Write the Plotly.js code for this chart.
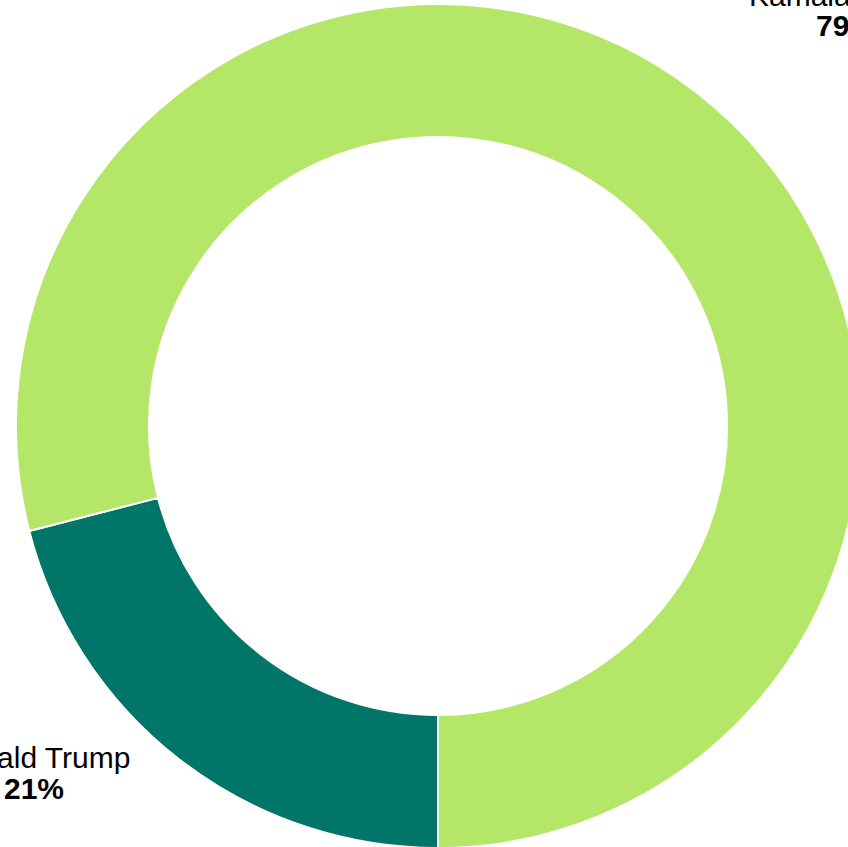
<!DOCTYPE html>
<html>
<head>
<meta charset="utf-8">
<script src="https://cdn.plot.ly/plotly-3.0.1.min.js"></script>
<style>
html,body{margin:0;padding:0;overflow:hidden;background:#fff;}
#chart{width:876px;height:852px;}
</style>
</head>
<body>
<div id="chart"></div>
<script>
const candidates = ["Donald Trump", "Kamala Harris"];
const shares = [21, 79];
const sliceColors = ["#017567", "#b4e668"];
const pctLabels = ["21%", "79%"];

const W = 876, H = 852, M = {l:16, r:16, t:4, b:4};
const PW = W - M.l - M.r, PH = H - M.t - M.b;
const px = x => (x - M.l) / PW;
const py = y => 1 - (y - M.t) / PH;

const font = {family: "Liberation Sans, Arial, sans-serif", size: 30, color: "#000"};
const annotations = [
  {text: candidates[0], x: px(132), y: py(757), xanchor: "right", yanchor: "middle"},
  {text: "<b>" + pctLabels[0] + "</b>", x: px(2), y: py(788), xanchor: "left", yanchor: "middle"},
  {text: candidates[1], x: px(747), y: py(-5), xanchor: "left", yanchor: "middle"},
  {text: "<b>" + pctLabels[1] + "</b>", x: px(814), y: py(26), xanchor: "left", yanchor: "middle"}
].map(a => Object.assign({xref: "paper", yref: "paper", showarrow: false, font: font}, a));

Plotly.newPlot("chart", [{
  type: "pie",
  labels: candidates,
  values: shares,
  hole: 0.685,
  sort: false,
  direction: "clockwise",
  rotation: 180,
  textinfo: "none",
  marker: {colors: sliceColors, line: {color: "#ffffff", width: 2}},
  showlegend: false,
  hoverinfo: "label+percent"
}], {
  width: W, height: H,
  margin: M,
  paper_bgcolor: "#ffffff",
  showlegend: false,
  annotations: annotations
}, {displayModeBar: false, staticPlot: true});
</script>
</body>
</html>
